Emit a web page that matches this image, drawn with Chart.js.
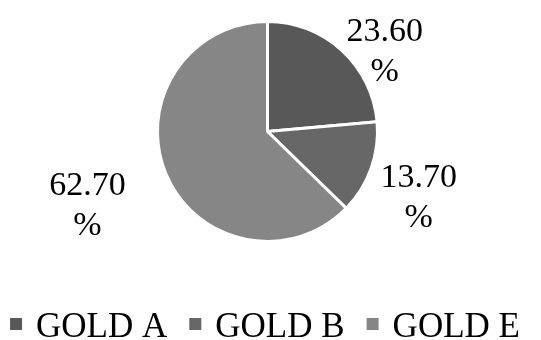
<!DOCTYPE html>
<html>
<head>
<meta charset="utf-8">
<script src="https://cdn.jsdelivr.net/npm/chart.js@4/dist/chart.umd.min.js"></script>
<style>
  html, body { margin: 0; padding: 0; background: #ffffff; }
  #wrap { width: 541px; height: 340px; }
</style>
</head>
<body>
<div id="wrap"><canvas id="c" width="541" height="340"></canvas></div>
<script>
const categories = ["GOLD A", "GOLD B", "GOLD E"];
const shares = [23.60, 13.70, 62.70];
const labelTexts = ["23.60", "13.70", "62.70"];
const colors = ["#585858", "#676767", "#868686"];

const serif = '"Liberation Serif", "Times New Roman", serif';

const outsideLabels = {
  id: 'outsideLabels',
  afterDatasetsDraw(chart, args, opts) {
    const ctx = chart.ctx;
    const meta = chart.getDatasetMeta(0);
    ctx.save();
    ctx.font = '34px ' + serif;
    ctx.fillStyle = '#000000';
    ctx.textAlign = 'center';
    ctx.textBaseline = 'alphabetic';
    meta.data.forEach((arc, i) => {
      const p = arc.getProps(['x', 'y', 'startAngle', 'endAngle', 'outerRadius'], true);
      const mid = (p.startAngle + p.endAngle) / 2;
      const r = p.outerRadius - 1.5;
      const ex = p.x + Math.cos(mid) * r;
      const ey = p.y + Math.sin(mid) * r;
      const off = opts.offsets[i];
      const cx = ex + off[0];
      const cy = ey + off[1];
      ctx.fillText(labelTexts[i], cx, cy - 10);
      ctx.fillText('%', cx, cy + 30);
    });
    ctx.restore();
  }
};

const bottomLegend = {
  id: 'bottomLegend',
  afterDraw(chart, args, opts) {
    const ctx = chart.ctx;
    const labels = chart.data.labels;
    const bg = chart.data.datasets[0].backgroundColor;
    ctx.save();
    ctx.font = opts.fontSize + 'px ' + serif;
    ctx.textBaseline = 'alphabetic';
    ctx.textAlign = 'left';
    const widths = labels.map(t => ctx.measureText(t).width);
    let total = 0;
    widths.forEach((w, i) => {
      total += opts.box + opts.boxGap + w;
      if (i < widths.length - 1) total += opts.itemGap;
    });
    let x = opts.centerX - total / 2;
    labels.forEach((t, i) => {
      ctx.fillStyle = bg[i];
      ctx.fillRect(x, opts.baseline - opts.boxLift - opts.box, opts.box, opts.box);
      x += opts.box + opts.boxGap;
      ctx.fillStyle = '#000000';
      ctx.fillText(t, x, opts.baseline);
      x += widths[i] + opts.itemGap;
    });
    ctx.restore();
  }
};

new Chart(document.getElementById('c'), {
  type: 'pie',
  data: {
    labels: categories,
    datasets: [{
      data: shares,
      backgroundColor: colors,
      borderColor: '#ffffff',
      borderWidth: 3,
      radius: 110
    }]
  },
  options: {
    responsive: false,
    animation: false,
    devicePixelRatio: 1,
    layout: { padding: { top: 0, bottom: 77, left: 0, right: 6 } },
    plugins: {
      tooltip: { enabled: false },
      legend: { display: false },
      outsideLabels: {
        offsets: [[44, -0.5], [49, 29], [-80, 31]]
      },
      bottomLegend: {
        fontSize: 35, box: 12, boxGap: 14, itemGap: 22,
        centerX: 265, baseline: 337, boxLift: 7
      }
    }
  },
  plugins: [outsideLabels, bottomLegend]
});
</script>
</body>
</html>
